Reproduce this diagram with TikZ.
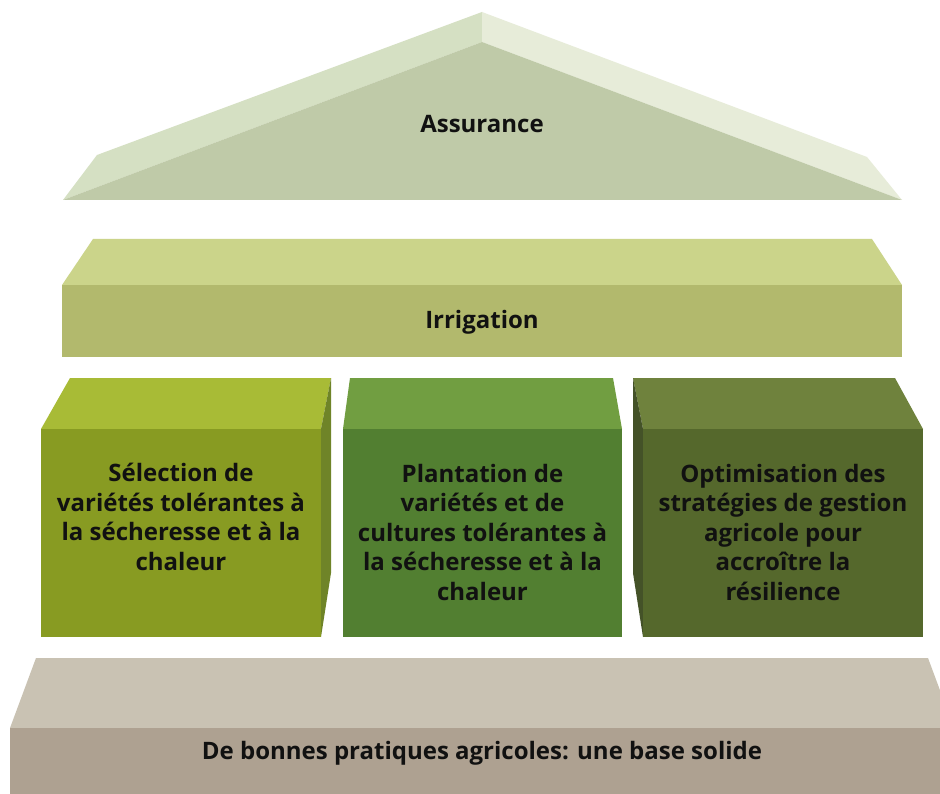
\documentclass[tikz,border=0pt]{standalone}
\usepackage{fontspec}
\setmainfont{Open Sans}
\definecolor{roofL}{HTML}{D5E0C3}
\definecolor{roofR}{HTML}{E7ECD9}
\definecolor{roofF}{HTML}{BFCAA8}
\definecolor{irrT}{HTML}{CBD48A}
\definecolor{irrF}{HTML}{B2B96D}
\definecolor{pAT}{HTML}{A8BB36}
\definecolor{pAF}{HTML}{889B22}
\definecolor{pAS}{HTML}{6F8428}
\definecolor{pBT}{HTML}{719E41}
\definecolor{pBF}{HTML}{527F31}
\definecolor{pCT}{HTML}{6F823D}
\definecolor{pCF}{HTML}{55682C}
\definecolor{pCS}{HTML}{445228}
\definecolor{baseT}{HTML}{C9C2B3}
\definecolor{baseF}{HTML}{AEA191}
\definecolor{txt}{HTML}{111111}
\tikzset{
  lbl/.style={text=txt, font=\bfseries\fontsize{24}{29.5}\selectfont, align=center, inner sep=0pt},
}
\begin{document}
\begin{tikzpicture}[x=1pt,y=-1pt]
\clip (0,0) rectangle (940,794);
\fill[white] (0,0) rectangle (940,794);
% roof
\fill[roofL] (63,200) -- (97,155) -- (482,12) -- (482,42) -- cycle;
\fill[roofR] (482,12) -- (867,157) -- (902,200) -- (482,42) -- cycle;
\fill[roofF] (63,200) -- (482,42) -- (902,200) -- cycle;
\node[lbl] (assurance) at (482,124) {Assurance};
% irrigation slab
\fill[irrT] (62,285) -- (93,239) -- (872,239) -- (902,285) -- cycle;
\fill[irrF] (62,285) rectangle (902,357);
\node[lbl] (irrigation) at (482,322) {Irrigation};
% pillar 1
\fill[pAT] (41,429) -- (70,378) -- (331,378) -- (321,429) -- cycle;
\fill[pAS] (321,429) -- (331,378) -- (331,573) -- (321,637) -- cycle;
\fill[pAF] (41,429) rectangle (321,637);
\node[lbl] (p1) at (181,517) {Sélection de\\variétés tolérantes à\\la sécheresse et à la\\chaleur};
% pillar 2
\fill[pBT] (343,429) -- (350,378) -- (613,378) -- (622,429) -- cycle;
\fill[pBF] (343,429) rectangle (622,637);
\node[lbl] (p2) at (482.5,532) {Plantation de\\variétés et de\\cultures tolérantes à\\la sécheresse et à la\\chaleur};
% pillar 3
\fill[pCT] (643,429) -- (633,378) -- (895,378) -- (923,429) -- cycle;
\fill[pCS] (633,378) -- (643,429) -- (643,637) -- (633,573) -- cycle;
\fill[pCF] (643,429) rectangle (923,637);
\node[lbl] (p3) at (783,532) {Optimisation des\\stratégies de gestion\\agricole pour\\accroître la\\résilience};
% base
\fill[baseT] (10,728) -- (36,658) -- (928,658) -- (954,728) -- cycle;
\fill[baseF] (10,728) rectangle (954,800);
\node[lbl] (base) at (482,753) {De bonnes pratiques agricoles: une base solide};
\end{tikzpicture}
\end{document}
